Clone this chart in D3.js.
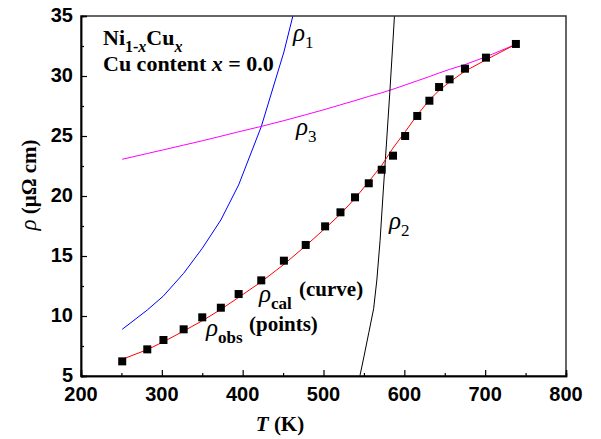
<!DOCTYPE html>
<html>
<head>
<meta charset="utf-8">
<script src="https://cdnjs.cloudflare.com/ajax/libs/d3/7.8.5/d3.min.js"></script>
<style>
  body { margin: 0; background: #fff; }
  svg { display: block; }
</style>
</head>
<body>
<svg id="chart" width="601" height="439"></svg>
<script>
// temperatures (K) of the measured points
var temps = [251, 282, 302, 327, 350, 373, 395, 423, 451, 478, 502, 521, 539, 556, 572, 586, 601, 616, 631, 643, 656, 675, 701, 738];
// rho_obs (points)
var rhoObs = [6.22, 7.22, 8.0, 8.89, 9.89, 10.69, 11.83, 12.97, 14.61, 15.92, 17.47, 18.64, 19.89, 21.06, 22.19, 23.36, 25.0, 26.67, 27.94, 29.08, 29.72, 30.61, 31.53, 32.67];
// rho_cal (red curve)
var rhoCal = [6.39, 7.2, 7.85, 8.75, 9.6, 10.55, 11.55, 12.85, 14.3, 15.85, 17.3, 18.5, 19.8, 21.2, 22.55, 24.0, 25.35, 26.75, 28.0, 28.8, 29.5, 30.4, 31.35, 32.65];
// rho_1 (blue), runs off the top after ~460 K
var rho1T = [251, 282, 302, 327, 350, 373, 395, 423, 451, 478];
var rho1 = [8.89, 10.5, 11.67, 13.56, 15.64, 18.0, 20.92, 25.78, 32.0, 39.3];
// rho_3 (magenta)
var rho3 = [23.06, 23.54, 23.85, 24.24, 24.6, 24.98, 25.35, 25.8, 26.28, 26.77, 27.22, 27.6, 27.95, 28.3, 28.6, 28.9, 29.25, 29.6, 29.95, 30.25, 30.55, 30.95, 31.6, 32.64];
// rho_2 (black), steep rise near 550-590 K
var rho2T = [545, 550, 556, 562, 566, 570, 574, 578, 582, 586, 590];
var rho2 = [5.0, 6.6, 8.6, 10.6, 13.0, 16.3, 20.5, 24.5, 28.6, 33.0, 37.5];

var xTicks = [200, 300, 400, 500, 600, 700, 800];
var yTicks = [5, 10, 15, 20, 25, 30, 35];

var svg = d3.select("#chart");
var pLeft = 81, pRight = 566, pTop = 16, pBottom = 376;

var x = d3.scaleLinear().domain([200, 800]).range([pLeft, pRight]);
var y = d3.scaleLinear().domain([5, 35]).range([pBottom, pTop]);

svg.append("defs").append("clipPath").attr("id", "clip")
  .append("rect").attr("x", pLeft).attr("y", pTop)
  .attr("width", pRight - pLeft).attr("height", pBottom - pTop);

var plot = svg.append("g").attr("clip-path", "url(#clip)");

function lineOf(ts, vs) {
  return d3.line()
    .x(function(d, i){ return x(ts[i]); })
    .y(function(d){ return y(d); })(vs);
}

plot.append("path").attr("d", lineOf(rho1T, rho1))
  .attr("fill", "none").attr("stroke", "#0000ff").attr("stroke-width", 1);
plot.append("path").attr("d", lineOf(temps, rho3))
  .attr("fill", "none").attr("stroke", "#ff00ff").attr("stroke-width", 1);
plot.append("path").attr("d", lineOf(rho2T, rho2))
  .attr("fill", "none").attr("stroke", "#000").attr("stroke-width", 1);
plot.append("path").attr("d", lineOf(temps, rhoCal))
  .attr("fill", "none").attr("stroke", "#ff0000").attr("stroke-width", 1);

plot.selectAll("rect.pt").data(rhoObs).enter().append("rect")
  .attr("class", "pt")
  .attr("x", function(d, i){ return x(temps[i]) - 4; })
  .attr("y", function(d){ return y(d) - 4; })
  .attr("width", 8).attr("height", 8)
  .attr("fill", "#000");

// frame
svg.append("rect").attr("x", pLeft).attr("y", pTop)
  .attr("width", pRight - pLeft).attr("height", pBottom - pTop)
  .attr("fill", "none").attr("stroke", "#333").attr("stroke-width", 1.5);

// axes, ticks inward
var xMinor = svg.append("g").attr("transform", "translate(0," + pBottom + ")")
  .call(d3.axisBottom(x).tickValues(d3.range(250, 800, 100)).tickSize(-3).tickFormat(""));
var xMajor = svg.append("g").attr("transform", "translate(0," + pBottom + ")")
  .call(d3.axisBottom(x).tickValues(xTicks).tickSize(-6).tickFormat(""));
var yMinor = svg.append("g").attr("transform", "translate(" + pLeft + ",0)")
  .call(d3.axisLeft(y).tickValues(d3.range(7.5, 35, 5)).tickSize(-3).tickFormat(""));
var yMajor = svg.append("g").attr("transform", "translate(" + pLeft + ",0)")
  .call(d3.axisLeft(y).tickValues(yTicks).tickSize(-6).tickFormat(""));
svg.selectAll(".domain").attr("stroke", "#000").attr("stroke-width", 1.5);
svg.selectAll(".tick line").attr("stroke", "#000").attr("stroke-width", 1.2);

var tickFont = "'Liberation Sans', Arial, sans-serif";
svg.selectAll("text.xt").data(xTicks).enter().append("text")
  .attr("class", "xt")
  .attr("x", function(d){ return x(d); }).attr("y", 401)
  .attr("text-anchor", "middle")
  .style("font-family", tickFont).style("font-weight", "bold").style("font-size", "20px")
  .text(function(d){ return d; });
svg.selectAll("text.yt").data(yTicks).enter().append("text")
  .attr("class", "yt")
  .attr("x", 73).attr("y", function(d){ return y(d) + 6; })
  .attr("text-anchor", "end")
  .style("font-family", tickFont).style("font-weight", "bold").style("font-size", "20px")
  .text(function(d){ return d; });

var serif = "'Liberation Serif', 'Times New Roman', serif";

// axis titles
var xt = svg.append("text").attr("x", 280).attr("y", 431).attr("text-anchor", "middle")
  .style("font-family", serif).style("font-weight", "bold").style("font-size", "21px");
xt.append("tspan").style("font-style", "italic").text("T");
xt.append("tspan").text(" (K)");

var yt = svg.append("text").attr("transform", "translate(36,185) rotate(-90)")
  .attr("text-anchor", "middle")
  .style("font-family", serif).style("font-weight", "bold").style("font-size", "21px");
yt.append("tspan").style("font-style", "italic").style("font-weight", "normal").style("font-size", "23px").text("ρ");
yt.append("tspan").text(" (μΩ cm)");

// composition label
var t1 = svg.append("text").attr("x", 103).attr("y", 45)
  .style("font-family", serif).style("font-weight", "bold").style("font-size", "22px");
t1.append("tspan").text("Ni");
t1.append("tspan").attr("dy", 7).style("font-size", "16px").text("1-");
t1.append("tspan").style("font-size", "16px").style("font-style", "italic").text("x");
t1.append("tspan").attr("dy", -7).text("Cu");
t1.append("tspan").attr("dy", 7).style("font-size", "16px").style("font-style", "italic").text("x");

var t2 = svg.append("text").attr("x", 103).attr("y", 71)
  .style("font-family", serif).style("font-weight", "bold").style("font-size", "22px");
t2.append("tspan").text("Cu content ");
t2.append("tspan").style("font-style", "italic").text("x");
t2.append("tspan").text(" = 0.0");

// rho labels
function rhoLabel(px, py, sub, bold) {
  var t = svg.append("text").attr("x", px).attr("y", py)
    .style("font-family", serif).style("font-size", "25px");
  t.append("tspan").style("font-style", "italic").text("ρ");
  t.append("tspan").attr("dy", 7).style("font-size", "17px")
    .style("font-weight", bold ? "bold" : "normal").text(sub);
  return t;
}
rhoLabel(293, 41, "1", false);
rhoLabel(296, 135, "3", false);
rhoLabel(389, 229, "2", false);
rhoLabel(259, 302, "cal", true);
rhoLabel(206, 336, "obs", true);

svg.append("text").attr("x", 299).attr("y", 296)
  .style("font-family", serif).style("font-weight", "bold").style("font-size", "21px")
  .text("(curve)");
svg.append("text").attr("x", 249).attr("y", 331)
  .style("font-family", serif).style("font-weight", "bold").style("font-size", "21px")
  .text("(points)");
</script>
</body>
</html>
